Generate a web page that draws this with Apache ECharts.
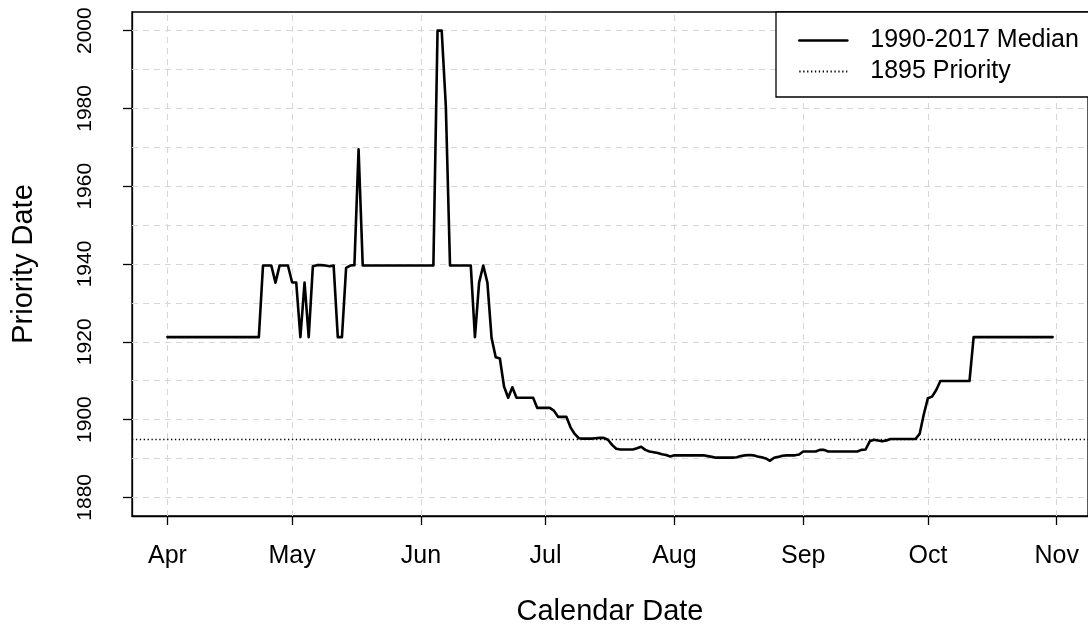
<!DOCTYPE html>
<html>
<head>
<meta charset="utf-8">
<script src="https://cdn.jsdelivr.net/npm/echarts@6/dist/echarts.min.js"></script>
<style>
html,body{margin:0;padding:0;background:#ffffff;}
#chart{width:1088px;height:631px;}
</style>
</head>
<body>
<div id="chart"></div>
<script>
// ---------- data ----------
const seriesNames = ['1990-2017 Median', '1895 Priority'];
const monthStartDays = [0, 30, 61, 91, 122, 153, 183, 214];   // days after Apr 1
const monthLabels = ['Apr', 'May', 'Jun', 'Jul', 'Aug', 'Sep', 'Oct', 'Nov'];
const yTickValues = [1880, 1900, 1920, 1940, 1960, 1980, 2000];
const yGridValues = [1880, 1890, 1900, 1910, 1920, 1930, 1940, 1950, 1960, 1970, 1980, 1990, 2000];
const priorityYear = 1895;
// daily median priority date, Apr 1 (day 0) .. Oct 31 (day 213)
const medianValues = [
  1921.2,1921.2,1921.2,1921.2,1921.2,1921.2,1921.2,1921.2,1921.2,1921.2,
  1921.2,1921.2,1921.2,1921.2,1921.2,1921.2,1921.2,1921.2,1921.2,1921.2,
  1921.2,1921.2,1921.2,1939.6,1939.6,1939.6,1935.2,1939.6,1939.6,1939.6,
  1935.3,1935.2,1921.2,1935.2,1921.2,1939.4,1939.7,1939.7,1939.6,1939.4,
  1939.6,1921.2,1921.2,1939.0,1939.6,1939.7,1969.5,1939.6,1939.6,1939.6,
  1939.6,1939.6,1939.6,1939.6,1939.6,1939.6,1939.6,1939.6,1939.6,1939.6,
  1939.6,1939.6,1939.6,1939.6,1939.6,2000.0,2000.0,1980.5,1939.6,1939.6,
  1939.6,1939.6,1939.6,1939.6,1921.2,1935.2,1939.6,1935.2,1921.0,1916.0,
  1915.7,1908.5,1905.6,1908.3,1905.6,1905.6,1905.6,1905.6,1905.6,1903.0,
  1903.0,1903.0,1903.0,1902.3,1900.7,1900.7,1900.7,1898.0,1896.3,1895.2,
  1895.1,1895.1,1895.1,1895.2,1895.3,1895.3,1894.8,1893.5,1892.5,1892.3,
  1892.3,1892.3,1892.3,1892.6,1893.0,1892.2,1891.8,1891.6,1891.4,1891.1,
  1890.9,1890.5,1890.8,1890.8,1890.8,1890.8,1890.8,1890.8,1890.8,1890.8,
  1890.6,1890.4,1890.2,1890.2,1890.2,1890.2,1890.2,1890.3,1890.6,1890.8,
  1890.9,1890.8,1890.5,1890.3,1890.0,1889.4,1890.2,1890.4,1890.7,1890.8,
  1890.8,1890.8,1891.0,1891.8,1891.8,1891.8,1891.8,1892.2,1892.2,1891.8,
  1891.8,1891.8,1891.8,1891.8,1891.8,1891.8,1891.8,1892.2,1892.3,1894.4,
  1894.8,1894.6,1894.4,1894.6,1895.0,1895.0,1895.0,1895.0,1895.0,1895.0,
  1895.0,1896.3,1901.3,1905.5,1905.9,1907.6,1909.9,1909.9,1909.9,1909.9,
  1909.9,1909.9,1909.9,1909.9,1921.2,1921.2,1921.2,1921.2,1921.2,1921.2,
  1921.2,1921.2,1921.2,1921.2,1921.2,1921.2,1921.2,1921.2,1921.2,1921.2,
  1921.2,1921.2,1921.2,1921.2
];

// ---------- chart ----------
const FONT = 'Liberation Sans, Arial, sans-serif';
const lastDay = medianValues.length - 1;
const xPad = lastDay * 0.04;            // R-style 4% axis extension
const yPad = (2000 - 1880) * 0.04;
const medianData = medianValues.map((v, i) => [i, v]);

const chart = echarts.init(document.getElementById('chart'), null, {renderer: 'canvas'});
chart.setOption({
  animation: false,
  backgroundColor: '#ffffff',
  grid: {
    left: 132, top: 12, width: 964, height: 505,
    show: true, borderColor: '#000', borderWidth: 1.3, backgroundColor: 'transparent'
  },
  legend: {
    data: [
      {name: seriesNames[0], lineStyle: {width: 2.6}},
      {name: seriesNames[1]}
    ],
    orient: 'vertical',
    left: 776, top: 12,
    padding: [16, 40, 13, 22],
    itemGap: 6, itemWidth: 48, itemHeight: 14,
    borderColor: '#000', borderWidth: 1.3, borderRadius: 0,
    backgroundColor: '#fff',
    selectedMode: false,
    itemStyle: {opacity: 0},
    textStyle: {fontFamily: FONT, fontSize: 25, color: '#000', lineHeight: 24, padding: [0, 0, 0, 18]}
  },
  xAxis: {
    type: 'value',
    min: -xPad, max: lastDay + xPad,
    axisLine: {show: true, onZero: false, lineStyle: {color: '#000', width: 1.3}},
    axisTick: {show: true, customValues: monthStartDays, length: 9, lineStyle: {color: '#000', width: 1.3}},
    axisLabel: {
      customValues: monthStartDays,
      formatter: v => monthLabels[monthStartDays.indexOf(v)],
      margin: 28, fontFamily: FONT, fontSize: 25, color: '#000'
    },
    splitLine: {show: false},
    name: 'Calendar Date', nameLocation: 'middle', nameGap: 81,
    nameTextStyle: {fontFamily: FONT, fontSize: 29, color: '#000'}
  },
  yAxis: {
    type: 'value',
    min: 1880 - yPad, max: 2000 + yPad,
    axisLine: {show: true, onZero: false, lineStyle: {color: '#000', width: 1.3}},
    axisTick: {show: true, customValues: yTickValues, length: 9, lineStyle: {color: '#000', width: 1.3}},
    axisLabel: {
      customValues: yTickValues, rotate: 90,
      formatter: v => String(v),
      margin: 36, fontFamily: FONT, fontSize: 21, color: '#000'
    },
    splitLine: {show: false},
    name: 'Priority Date', nameLocation: 'middle', nameRotate: 90, nameGap: 94,
    nameTextStyle: {fontFamily: FONT, fontSize: 29, color: '#000'}
  },
  series: [
    {
      name: 'grid', type: 'line', data: [], z: 1, silent: true,
      markLine: {
        silent: true, symbol: 'none', animation: false, z: 1,
        label: {show: false},
        lineStyle: {color: '#d6d6d6', type: [6, 5], width: 1},
        data: monthStartDays.map(d => ({xAxis: d})).concat(yGridValues.map(v => ({yAxis: v})))
      }
    },
    {
      name: seriesNames[1], type: 'line', data: [], z: 2, symbol: 'none',
      lineStyle: {color: '#000', width: 1.3, type: [1.3, 2.6]},
      itemStyle: {color: '#000'},
      markLine: {
        silent: true, symbol: 'none', animation: false, z: 2,
        label: {show: false},
        lineStyle: {color: '#000', width: 1.3, type: [1.3, 2.6]},
        data: [{yAxis: priorityYear}]
      }
    },
    {
      name: seriesNames[0], type: 'line', data: medianData, z: 3,
      symbol: 'none', showSymbol: false,
      lineStyle: {color: '#000', width: 2.6, cap: 'round', join: 'round'},
      itemStyle: {color: '#000'}
    }
  ]
});
</script>
</body>
</html>
